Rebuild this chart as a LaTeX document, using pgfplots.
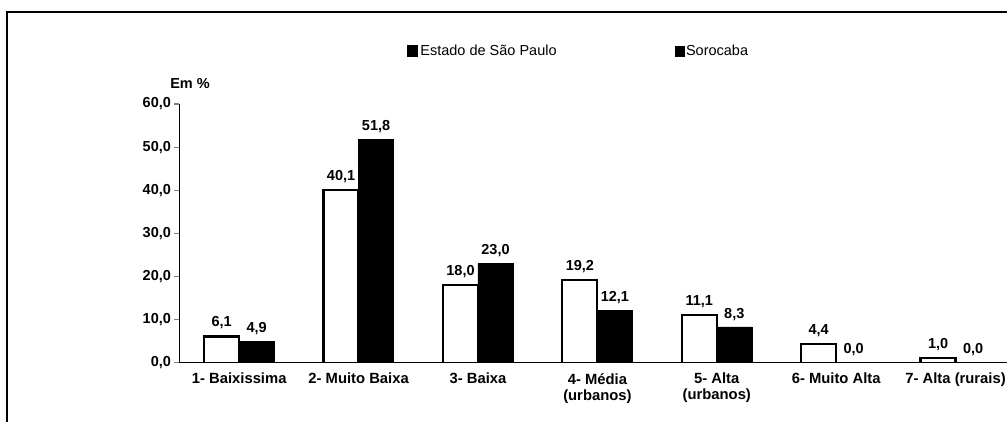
\documentclass[border=0pt]{standalone}
\usepackage{fontspec}
\setmainfont{Liberation Sans}
\usepackage{pgfplots}
\pgfplotsset{compat=1.18}

\begin{document}
\begin{tikzpicture}[x=1pt,y=1pt]
\useasboundingbox (-179.5,-58.3) rectangle (827.5,362.7);
% outer frame of the scanned figure
\draw[line width=2pt] (-172.5,-70) -- (-172.5,350.7) -- (840,350.7);
\begin{axis}[
  at={(0,0)}, anchor=south west,
  scale only axis,
  width=835.8pt, height=258.7pt,
  ybar=0pt, bar width=35pt,
  xmin=-0.5, xmax=6.5,
  ymin=0, ymax=60,
  axis x line=bottom, axis y line=left,
  axis line style={-, line width=1.4pt},
  tick align=outside,
  xtick={0,...,6},
  xticklabels={1- Baixissima, 2- Muito Baixa, 3- Baixa, {4- Média\\(urbanos)}, {5- Alta\\(urbanos)}, 6- Muito Alta, 7- Alta (rurais)},
  xticklabel style={font=\fontsize{14.8}{16}\selectfont\bfseries, align=center, yshift=-2pt},
  major x tick style={draw=none},
  extra x ticks={0.5,1.5,...,5.5},
  extra x tick labels={},
  extra x tick style={major tick length=5pt, tick style={draw=black, line width=1.2pt}},
  ytick={0,10,...,60},
  yticklabel style={font=\fontsize{14.5}{16}\selectfont\bfseries},
  major y tick style={line width=1.2pt},
  major tick length=5pt,
  /pgf/number format/.cd, use comma, fixed, fixed zerofill, precision=1, assume math mode=true,
  /pgfplots/.cd,
  nodes near coords,
  every node near coord/.append style={font=\fontsize{14.5}{16}\selectfont\bfseries, black, yshift=3pt},
  legend columns=2,
  legend style={draw=none, at={(0.2686,1.205)}, anchor=west,
    font=\fontsize{14.5}{16}\selectfont,
    /tikz/every even column/.append style={column sep=116pt}},
  legend image code/.code={\fill[black] (0pt,-5pt) rectangle (9pt,5pt);},
]
\addplot[fill=white, draw=black, line width=2.2pt] coordinates {(0,6.1) (1,40.1) (2,18.0) (3,19.2) (4,11.1) (5,4.4) (6,1.0)};
\addplot[fill=black, draw=black] coordinates {(0,4.9) (1,51.8) (2,23.0) (3,12.1) (4,8.3) (5,0.0) (6,0.0)};
\legend{Estado de São Paulo, Sorocaba}
\end{axis}
\node[font=\fontsize{14.5}{16}\selectfont\bfseries] at (10.5,278.7) {Em \%};
\end{tikzpicture}
\end{document}
